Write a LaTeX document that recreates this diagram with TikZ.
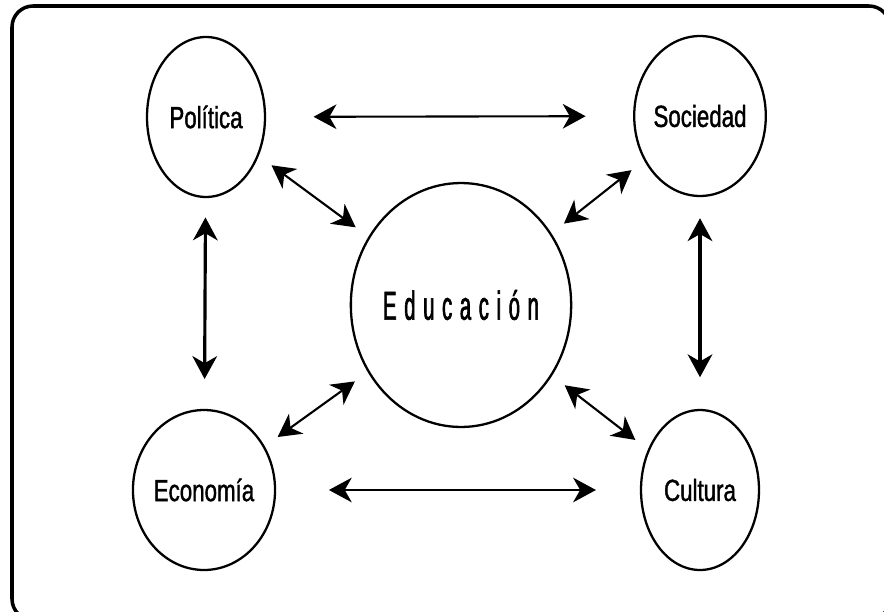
\documentclass[tikz,border=0pt]{standalone}
\usepackage{fontspec}
\newfontfamily\labelfont{Liberation Sans}[FakeStretch=0.73,FakeBold=1.2]
\newfontfamily\centerfont{Liberation Sans}[FakeStretch=0.5,FakeBold=1.5,LetterSpace=19]
\usetikzlibrary{arrows.meta,shapes.geometric}

\begin{document}
\begin{tikzpicture}[x=0.02cm,y=-0.02cm,
    topic/.style={draw,ellipse,line width=1.3pt,minimum width=2.36cm,minimum height=3.2cm,inner sep=0pt,
      font={\labelfont\fontsize{17.4}{20}\selectfont}},
    link/.style={{Stealth[length=13pt,width=14pt,inset=4pt]}-{Stealth[length=13pt,width=14pt,inset=4pt]},line width=1.2pt}]
    \clip (0,0) rectangle (884,611);
    \draw[line width=2pt,rounded corners=12pt] (12,6) rectangle (890,620);
    \node[topic] (pol) at (206,117) {Política};
    \node[topic] (soc) at (700,116) {Sociedad};
    \node[topic] (eco) at (204,490) {Economía};
    \node[topic] (cul) at (700,490) {Cultura};
    \node[topic,minimum width=3.6cm,minimum height=4.88cm,
      font={\centerfont\fontsize{23}{26}\selectfont}] (edu) at (461,305) {Educación};
    \draw[link,shorten <=27pt,shorten >=27pt] (pol) -- (soc);
    \draw[link,shorten <=30pt,shorten >=25pt] (eco) -- (cul);
    \draw[link,line width=1.8pt,shorten <=11pt,shorten >=17pt] (pol) -- (eco);
    \draw[link,line width=1.8pt,shorten <=12pt,shorten >=18pt] (soc) -- (cul);
    \foreach \n in {pol,soc,eco,cul}
    \draw[link,shorten <=9pt,shorten >=9pt] (\n) -- (edu);
\end{tikzpicture}
\end{document}
